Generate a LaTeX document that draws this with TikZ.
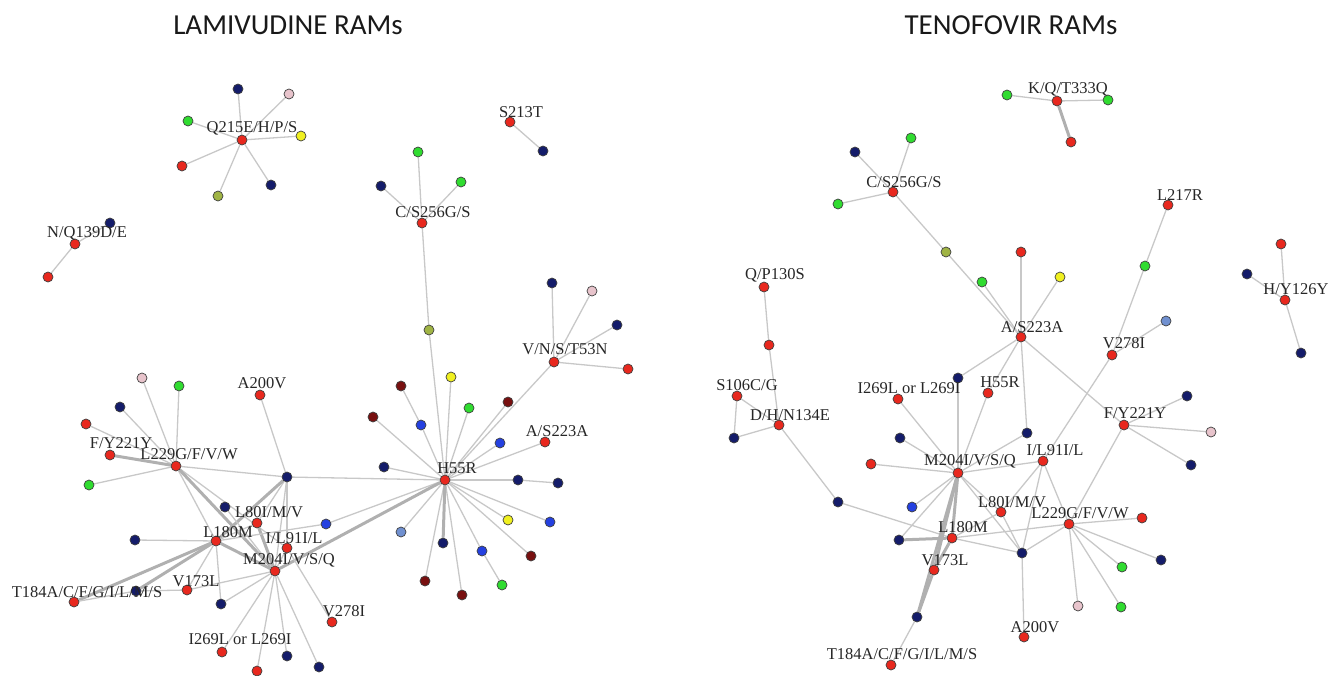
\documentclass[tikz,border=0pt]{standalone}
\usepackage{fontspec}
\setmainfont{Liberation Serif}
\newfontfamily\titlefont{Carlito}
\usetikzlibrary{backgrounds}
\definecolor{cRed}{HTML}{E8281E}
\definecolor{cNavy}{HTML}{141C6A}
\definecolor{cGreen}{HTML}{30DC30}
\definecolor{cPink}{HTML}{E8C4CC}
\definecolor{cYellow}{HTML}{F0F020}
\definecolor{cOlive}{HTML}{A0B444}
\definecolor{cDark}{HTML}{781010}
\definecolor{cBlue}{HTML}{2440E0}
\definecolor{cLight}{HTML}{7090D0}
\definecolor{cEdge}{HTML}{C8C8C8}
\tikzset{
  dot/.style={circle, draw=black!75, line width=0.7pt, inner sep=0pt, minimum size=10pt},
  rd/.style={dot, fill=cRed},
  nv/.style={dot, fill=cNavy},
  gr/.style={dot, fill=cGreen},
  pk/.style={dot, fill=cPink},
  yl/.style={dot, fill=cYellow},
  ol/.style={dot, fill=cOlive},
  dk/.style={dot, fill=cDark},
  bl/.style={dot, fill=cBlue},
  lb/.style={dot, fill=cLight},
  lbl/.style={font=\fontsize{16.5}{16.5}\selectfont, text=black!85, inner sep=0pt},
  ttl/.style={font=\titlefont\fontsize{29}{29}\selectfont, text=black!90, inner sep=0pt},
  e/.style={draw=cEdge, line width=1.3pt},
  te/.style={draw=cEdge!88!black, line width=3pt},
}
\begin{document}
\begin{tikzpicture}[x=1pt,y=-1pt]
\useasboundingbox (0,0) rectangle (1339,675);
\node[ttl] (t1) at (288,25) {LAMIVUDINE RAMs};
\node[ttl] (t2) at (1011,25) {TENOFOVIR RAMs};
% ---------------- LEFT ----------------
\node[rd] (qc) at (242,140) {};
\node[nv] (q1) at (238,89) {};
\node[pk] (q2) at (289,94) {};
\node[gr] (q3) at (188,121) {};
\node[yl] (q4) at (301,136) {};
\node[rd] (q5) at (182,166) {};
\node[nv] (q6) at (271,185) {};
\node[ol] (q7) at (218,196) {};
\node[rd] (nc) at (75,244) {};
\node[nv] (n1) at (110,223) {};
\node[rd] (n2) at (48,277) {};
\node[rd] (sc) at (510,122) {};
\node[nv] (s1) at (543,151) {};
\node[rd] (cc) at (422,223) {};
\node[gr] (c1) at (418,152) {};
\node[nv] (c2) at (381,186) {};
\node[gr] (c3) at (461,182) {};
\node[ol] (c4) at (429,330) {};
\node[rd] (vc) at (554,362) {};
\node[nv] (v1) at (552,283) {};
\node[pk] (v2) at (592,291) {};
\node[nv] (v3) at (617,325) {};
\node[rd] (v4) at (628,369) {};
\node[rd] (hc) at (445,480) {};
\node[yl] (h1) at (451,377) {};
\node[dk] (h2) at (401,386) {};
\node[gr] (h3) at (469,408) {};
\node[dk] (h4) at (508,402) {};
\node[dk] (h5) at (373,417) {};
\node[bl] (h6) at (421,425) {};
\node[bl] (h7) at (500,443) {};
\node[rd] (ha) at (545,442) {};
\node[nv] (h8) at (384,467) {};
\node[nv] (h9) at (518,480) {};
\node[nv] (h10) at (558,483) {};
\node[yl] (h11) at (508,520) {};
\node[bl] (h12) at (550,522) {};
\node[lb] (h13) at (401,532) {};
\node[nv] (h14) at (443,543) {};
\node[bl] (h15) at (482,551) {};
\node[dk] (h16) at (531,556) {};
\node[dk] (h17) at (425,581) {};
\node[dk] (h18) at (462,595) {};
\node[gr] (h19) at (502,585) {};
\node[pk] (m1) at (142,378) {};
\node[gr] (m2) at (179,386) {};
\node[nv] (m3) at (120,407) {};
\node[rd] (m4) at (86,424) {};
\node[rd] (fy) at (110,455) {};
\node[rd] (lw) at (176,466) {};
\node[gr] (m5) at (89,485) {};
\node[rd] (av) at (260,395) {};
\node[nv] (hub) at (287,477) {};
\node[nv] (m6) at (225,507) {};
\node[rd] (le) at (257,523) {};
\node[bl] (m7) at (326,524) {};
\node[rd] (lo) at (216,541) {};
\node[rd] (li) at (287,548) {};
\node[nv] (m8) at (135,540) {};
\node[rd] (mz) at (275,571) {};
\node[rd] (vs) at (187,590) {};
\node[nv] (m9) at (136,591) {};
\node[rd] (tr) at (74,602) {};
\node[nv] (m10) at (221,604) {};
\node[rd] (vt) at (332,622) {};
\node[rd] (ii) at (222,652) {};
\node[nv] (m11) at (287,656) {};
\node[rd] (m12) at (257,671) {};
\node[nv] (m13) at (319,667) {};
% ---------------- RIGHT ----------------
\node[rd] (kc) at (1057,101) {};
\node[gr] (k1) at (1007,95) {};
\node[gr] (k2) at (1108,100) {};
\node[rd] (k3) at (1071,142) {};
\node[rd] (rc) at (893,192) {};
\node[nv] (r1) at (855,152) {};
\node[gr] (r2) at (911,138) {};
\node[gr] (r3) at (838,204) {};
\node[ol] (r4) at (946,252) {};
\node[gr] (r5) at (982,282) {};
\node[rd] (ra) at (1021,337) {};
\node[rd] (r6) at (1021,252) {};
\node[yl] (r7) at (1060,277) {};
\node[rd] (rl) at (1168,205) {};
\node[gr] (r8) at (1145,266) {};
\node[lb] (r9) at (1166,321) {};
\node[rd] (rv) at (1112,355) {};
\node[rd] (r10) at (1281,244) {};
\node[nv] (r11) at (1247,274) {};
\node[rd] (ry) at (1285,300) {};
\node[nv] (r12) at (1301,353) {};
\node[rd] (rq) at (764,287) {};
\node[rd] (r13) at (769,345) {};
\node[rd] (rs) at (737,396) {};
\node[rd] (rd) at (779,425) {};
\node[nv] (r14) at (734,438) {};
\node[nv] (r15) at (838,502) {};
\node[rd] (ri) at (898,399) {};
\node[nv] (r16) at (958,378) {};
\node[rd] (rh) at (988,393) {};
\node[nv] (r17) at (900,438) {};
\node[rd] (r18) at (871,464) {};
\node[rd] (rm) at (958,473) {};
\node[bl] (r19) at (912,507) {};
\node[rd] (re) at (1001,512) {};
\node[rd] (ro) at (952,538) {};
\node[nv] (r20) at (899,540) {};
\node[rd] (rw) at (934,570) {};
\node[nv] (r21) at (917,617) {};
\node[rd] (rt) at (891,665) {};
\node[nv] (r22) at (1022,553) {};
\node[rd] (rg) at (1069,524) {};
\node[rd] (rn) at (1043,461) {};
\node[nv] (r23) at (1027,433) {};
\node[rd] (rf) at (1124,425) {};
\node[nv] (r24) at (1187,396) {};
\node[pk] (r25) at (1211,432) {};
\node[nv] (r26) at (1191,465) {};
\node[rd] (r27) at (1142,518) {};
\node[nv] (r28) at (1161,560) {};
\node[gr] (r29) at (1122,567) {};
\node[pk] (r30) at (1078,606) {};
\node[gr] (r31) at (1121,607) {};
\node[rd] (rz) at (1024,637) {};
% ---------------- EDGES ----------------
\begin{scope}[on background layer]
\foreach \a in {q1,q2,q3,q4,q5,q6,q7} \draw[e] (qc) -- (\a);
\draw[e] (nc) -- (n1); \draw[e] (nc) -- (n2);
\draw[e] (sc) -- (s1);
\foreach \a in {c1,c2,c3,c4} \draw[e] (cc) -- (\a);
\draw[e] (c4) -- (hc);
\foreach \a in {v1,v2,v3,v4,hc} \draw[e] (vc) -- (\a);
\foreach \a in {h1,h3,h4,h5,h6,h7,ha,h8,h9,h11,h12,h13,h15,h16,h17,h18} \draw[e] (hc) -- (\a);
\draw[e] (h6) -- (h2); \draw[e] (h9) -- (h10); \draw[e] (h15) -- (h19);
\draw[te] (hc) -- (h14);
\foreach \a in {m1,m2,m3,m4,m5,hub,lo,li} \draw[e] (lw) -- (\a);
\draw[te] (lw) -- (fy);
\draw[te] (lw) -- (mz);
\foreach \a in {av,hc,le,li,mz} \draw[e] (hub) -- (\a);
\draw[te] (hub) -- (lo);
\draw[e] (m6) -- (mz);
\draw[e] (le) -- (lo); \draw[te] (le) -- (mz);
\foreach \a in {m8,vs,m10,m7} \draw[e] (lo) -- (\a);
\draw[te] (lo) -- (mz);
\draw[te] (lo) -- (m9);
\draw[te] (lo) -- (tr);
\draw[e] (m7) -- (hc);
\draw[e] (vs) -- (m9); \draw[e] (vs) -- (mz);
\draw[e] (m9) -- (tr);
\foreach \a in {m10,ii,m11,m12,m13,li} \draw[e] (mz) -- (\a);
\draw[te] (mz) -- (hc);
\draw[e] (li) -- (vt);
% right
\draw[e] (kc) -- (k1); \draw[e] (kc) -- (k2); \draw[te] (kc) -- (k3);
\foreach \a in {r1,r2,r3,r4} \draw[e] (rc) -- (\a);
\foreach \a in {r4,r5,r6,r7,r16,rh,r23,rf} \draw[e] (ra) -- (\a);
\draw[e] (rl) -- (r8); \draw[e] (r8) -- (rv); \draw[e] (r9) -- (rv);
\draw[e] (rv) -- (rn);
\foreach \a in {r10,r11,r12} \draw[e] (ry) -- (\a);
\draw[e] (rq) -- (r13); \draw[e] (r13) -- (rd);
\draw[e] (rs) -- (rd); \draw[e] (rs) -- (r14); \draw[e] (r14) -- (rd);
\draw[e] (rd) -- (r15); \draw[e] (r15) -- (ro);
\foreach \a in {ri,r16,rh,r17,r18,r23,rn,r19,r20,re,r22} \draw[e] (rm) -- (\a);
\draw[te] (rm) -- (ro); \draw[te] (rm) -- (rw); \draw[te] (rm) -- (r21);
\draw[e] (re) -- (ro); \draw[e] (re) -- (r22); \draw[e] (re) -- (rn);
\draw[e] (rn) -- (rg); \draw[e] (rn) -- (r22);
\foreach \a in {rf,r27,r28,r29,r30,r31,r22,ro} \draw[e] (rg) -- (\a);
\foreach \a in {r24,r25,r26} \draw[e] (rf) -- (\a);
\draw[e] (r22) -- (rz); \draw[e] (r22) -- (ro);
\draw[te] (ro) -- (r20); \draw[te] (ro) -- (rw); \draw[te] (rw) -- (r21);
\draw[e] (r21) -- (rt);
\end{scope}
% ---------------- LABELS ----------------
\node[lbl] (Lq) at (252,128) {Q215E/H/P/S};
\node[lbl] (Ln) at (87,233) {N/Q139D/E};
\node[lbl] (Ls) at (521,112) {S213T};
\node[lbl] (Lc) at (433,212) {C/S256G/S};
\node[lbl] (Lv) at (565,349) {V/N/S/T53N};
\node[lbl] (Lh) at (457,468) {H55R};
\node[lbl] (La) at (557,431) {A/S223A};
\node[lbl] (Lav) at (262,383) {A200V};
\node[lbl] (Lfy) at (121,443) {F/Y221Y};
\node[lbl] (Llw) at (189,454) {L229G/F/V/W};
\node[lbl] (Lle) at (269,512) {L80I/M/V};
\node[lbl] (Llo) at (228,532) {L180M};
\node[lbl] (Lli) at (294,538) {I/L91I/L};
\node[lbl] (Lmz) at (289,560) {M204I/V/S/Q};
\node[lbl] (Lvs) at (196,581) {V173L};
\node[lbl] (Ltr) at (87,592) {T184A/C/F/G/I/L/M/S};
\node[lbl] (Lvt) at (344,611) {V278I};
\node[lbl] (Lii) at (240,639) {I269L or L269I};
\node[lbl] (Rk) at (1068,89) {K/Q/T333Q};
\node[lbl] (Rc) at (904,182) {C/S256G/S};
\node[lbl] (Rl) at (1180,195) {L217R};
\node[lbl] (Rq) at (775,275) {Q/P130S};
\node[lbl] (Ry) at (1296,289) {H/Y126Y};
\node[lbl] (Ra) at (1032,327) {A/S223A};
\node[lbl] (Rv) at (1124,343) {V278I};
\node[lbl] (Rs) at (747,385) {S106C/G};
\node[lbl] (Rd) at (790,415) {D/H/N134E};
\node[lbl] (Ri) at (909,388) {I269L or L269I};
\node[lbl] (Rh) at (1000,382) {H55R};
\node[lbl] (Rf) at (1135,413) {F/Y221Y};
\node[lbl] (Rn) at (1055,450) {I/L91I/L};
\node[lbl] (Rm) at (970,461) {M204I/V/S/Q};
\node[lbl] (Re) at (1012,502) {L80I/M/V};
\node[lbl] (Rg) at (1080,513) {L229G/F/V/W};
\node[lbl] (Ro) at (963,527) {L180M};
\node[lbl] (Rw) at (945,560) {V173L};
\node[lbl] (Rz) at (1035,627) {A200V};
\node[lbl] (Rt) at (902,654) {T184A/C/F/G/I/L/M/S};
\end{tikzpicture}
\end{document}
